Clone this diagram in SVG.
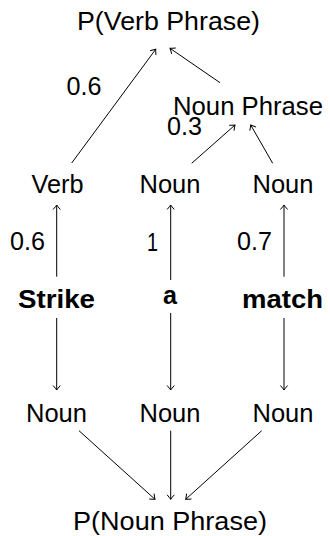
<svg xmlns="http://www.w3.org/2000/svg" width="330" height="536" viewBox="0 0 330 536">
  <style>
    text { font-family: "Liberation Sans", Arial, sans-serif; font-size: 26px; fill: #000; text-anchor: middle; }
    .word { font-weight: bold; }
    .edge { stroke: #000; stroke-width: 1; fill: none; marker-end: url(#to); }
  </style>
  <defs>
    <marker id="to" viewBox="-6 -5 8 10" markerWidth="8" markerHeight="10" refX="0" refY="0" orient="auto" markerUnits="userSpaceOnUse">
      <path d="M -4.5,-3.6 Q -1.2,-0.8 0,0 Q -1.2,0.8 -4.5,3.6" stroke="#000" stroke-width="1" fill="none"/>
    </marker>
  </defs>

  <g id="connectors">
    <!-- tag and phrase scores, upward -->
    <line class="edge" x1="71.7" y1="163" x2="155.7" y2="49.3"/>
    <line class="edge" x1="220" y1="82.7" x2="170" y2="48.3"/>
    <line class="edge" x1="191.7" y1="163.3" x2="235" y2="125"/>
    <line class="edge" x1="272.7" y1="163.3" x2="250.7" y2="125"/>
    <line class="edge" x1="56.7" y1="276.7" x2="56.7" y2="205"/>
    <line class="edge" x1="170.7" y1="280" x2="170.7" y2="205"/>
    <line class="edge" x1="284" y1="276.7" x2="284" y2="205"/>
    <!-- downward to noun tags -->
    <line class="edge" x1="56.7" y1="318" x2="56.7" y2="390"/>
    <line class="edge" x1="170.7" y1="313" x2="170.7" y2="390"/>
    <line class="edge" x1="284" y1="318" x2="284" y2="390"/>
    <line class="edge" x1="79" y1="430.7" x2="155" y2="499.3"/>
    <line class="edge" x1="170.7" y1="430.7" x2="170.7" y2="499.3"/>
    <line class="edge" x1="261.7" y1="430.7" x2="185.7" y2="499.3"/>
  </g>

  <g id="p-verb-phrase"><text x="168.5" y="29.5" textLength="183" lengthAdjust="spacingAndGlyphs">P(Verb Phrase)</text></g>
  <g id="noun-phrase"><text x="248" y="115" textLength="150" lengthAdjust="spacingAndGlyphs">Noun Phrase</text></g>
  <g id="label-verb-phrase"><text x="84" y="95" textLength="35" lengthAdjust="spacingAndGlyphs">0.6</text></g>
  <g id="label-noun-phrase"><text x="184.5" y="135" textLength="35" lengthAdjust="spacingAndGlyphs">0.3</text></g>

  <g id="tag-verb"><text x="57.5" y="193" textLength="52" lengthAdjust="spacingAndGlyphs">Verb</text></g>
  <g id="tag-noun-a"><text x="170" y="193" textLength="61" lengthAdjust="spacingAndGlyphs">Noun</text></g>
  <g id="tag-noun-match"><text x="283" y="193" textLength="61" lengthAdjust="spacingAndGlyphs">Noun</text></g>

  <g id="score-strike"><text x="27.5" y="250" textLength="35" lengthAdjust="spacingAndGlyphs">0.6</text></g>
  <g id="score-a"><text x="152.5" y="251" textLength="11" lengthAdjust="spacingAndGlyphs">1</text></g>
  <g id="score-match"><text x="254.5" y="250" textLength="35" lengthAdjust="spacingAndGlyphs">0.7</text></g>

  <g id="word-strike"><text class="word" x="56.5" y="308" textLength="77" lengthAdjust="spacingAndGlyphs">Strike</text></g>
  <g id="word-a"><text class="word" x="170" y="304" textLength="14" lengthAdjust="spacingAndGlyphs">a</text></g>
  <g id="word-match"><text class="word" x="282.5" y="308" textLength="81" lengthAdjust="spacingAndGlyphs">match</text></g>

  <g id="noun-strike"><text x="56.5" y="421.7" textLength="61" lengthAdjust="spacingAndGlyphs">Noun</text></g>
  <g id="noun-a"><text x="170" y="421.7" textLength="61" lengthAdjust="spacingAndGlyphs">Noun</text></g>
  <g id="noun-match"><text x="283" y="421.7" textLength="61" lengthAdjust="spacingAndGlyphs">Noun</text></g>

  <g id="p-noun-phrase"><text x="170" y="530" textLength="194" lengthAdjust="spacingAndGlyphs">P(Noun Phrase)</text></g>
</svg>
